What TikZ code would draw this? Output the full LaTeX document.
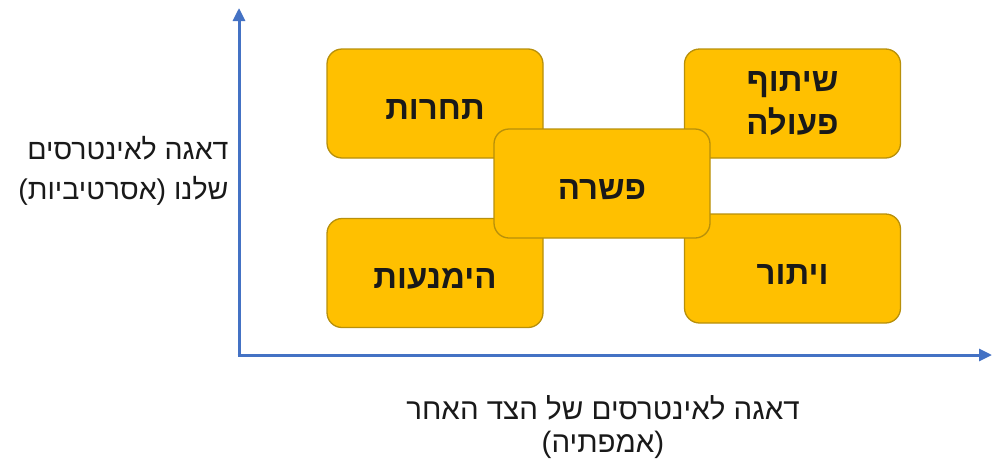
\documentclass[tikz,border=0pt]{standalone}
\usepackage{fontspec}
\usepackage{tikz}
\usetikzlibrary{arrows.meta,positioning}
\TeXXeTstate=1
\newfontfamily\hebfont[Script=Hebrew]{Liberation Sans}
\definecolor{boxgold}{HTML}{FFC000}
\definecolor{boxedge}{HTML}{B8900A}
\definecolor{axisblue}{HTML}{4472C4}

\begin{document}
\begin{tikzpicture}[x=1pt,y=-1pt]
\tikzstyle{style}=[rounded corners=15pt, fill=boxgold, draw=boxedge, line width=1.3pt,
  minimum width=216pt, minimum height=109pt, align=center, text=black!90,
  font=\hebfont\bfseries\fontsize{33}{43}\selectfont]
\tikzstyle{word}=[text height=31pt, text depth=0pt]
\tikzstyle{axis}=[axisblue, line width=3pt, -{Triangle[length=13pt,width=12pt]}]
\tikzstyle{caption}=[align=center, text=black!90, font=\hebfont\fontsize{29.5}{33}\selectfont]
\useasboundingbox (0,0) rectangle (992,461);
  % axes
  \coordinate (o) at (239,355);
  \coordinate (ytip) at (239,8);
  \coordinate (xtip) at (992,355);
  \draw[axis] ([yshift=1.5pt]o) -- (ytip);
  \draw[axis] ([xshift=-1.5pt]o) -- (xtip);
  % styles
  \node[style, word] (compete) at (435,103.5) {\beginR תחרות\endR};
  \node[style, word] (avoid) at (435,273) {\beginR הימנעות\endR};
  \node[style] (collab) at (792.5,103.5) {\beginR שיתוף\endR\\\beginR פעולה\endR};
  \node[style, word] (yield) at (792.5,268.5) {\beginR ויתור\endR};
  \node[style, word] (comprom) at (602,183.5) {\beginR פשרה\endR};
  % axis labels
  \node[caption, align=right, anchor=east, font=\hebfont\fontsize{28.5}{40}\selectfont]
    (ylabel) at (232,171) {\beginR דאגה לאינטרסים\endR\\\beginR שלנו (אסרטיביות)\endR};
  \node[caption] (xlabel) at (603,427) {\beginR דאגה לאינטרסים של הצד האחר\endR\\\beginR (אמפתיה)\endR};
\end{tikzpicture}
\end{document}
